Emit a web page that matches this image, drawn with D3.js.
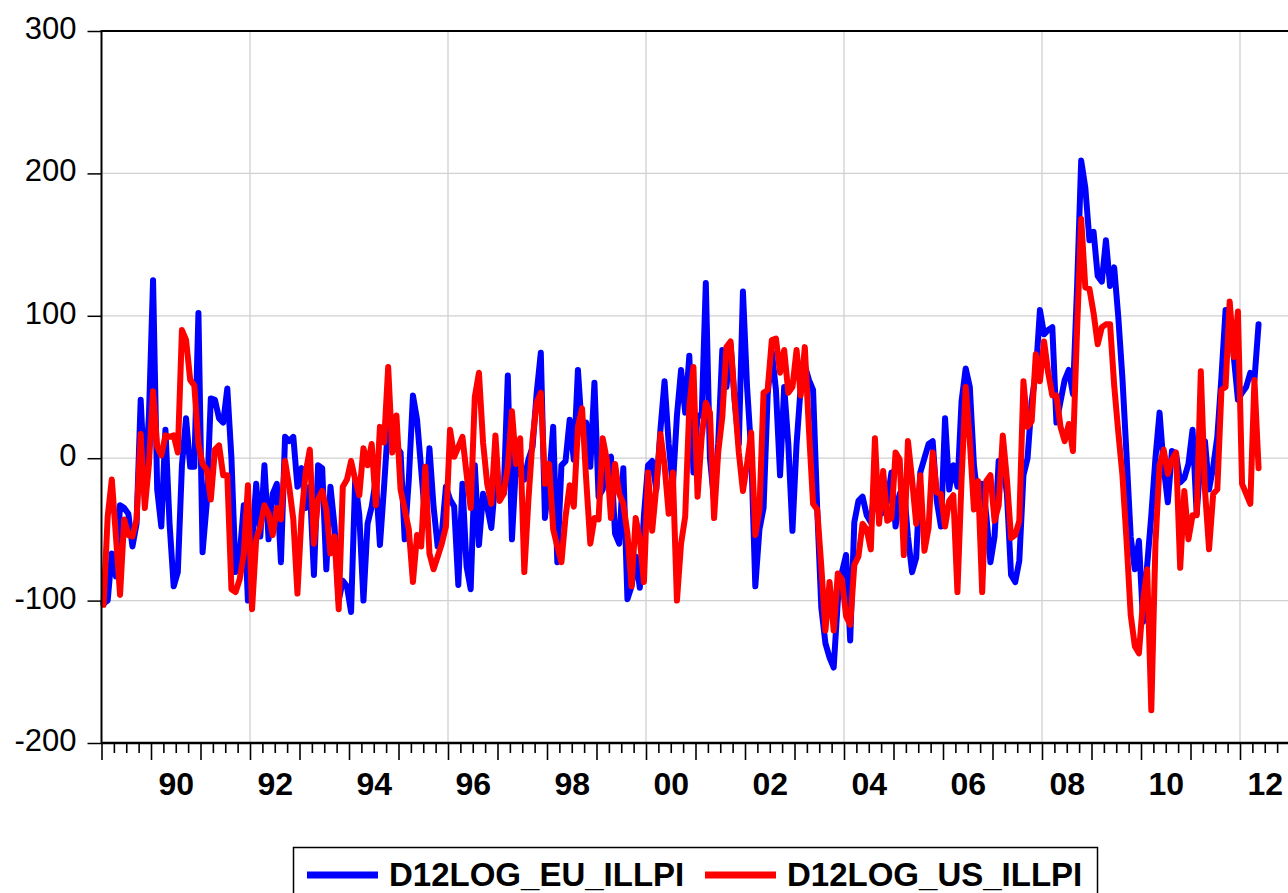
<!DOCTYPE html>
<html>
<head>
    <title></title>
    <meta charset="utf-8" />
    <style>
        body { margin: 0; background: #fff; }
        svg { display: block; font-family: "Liberation Sans", Arial, sans-serif; }
    </style>
    <script src="https://d3js.org/d3.v7.min.js"></script>
</head>
<body>
<svg id="main-graph"></svg>
<script>

// monthly observations, 1989M01 .. 2012M05
let startYear = 1989;
let seriesNames = ["D12LOG_EU_ILLPI", "D12LOG_US_ILLPI"];
let seriesColors = ["#0000ff", "#ff0000"];

let euValues = [
    -102, -100, -67, -83, -33, -35, -39, -62, -46, 41, -20, 30,
    125, -22, -48, 20, -46, -90, -80, -5, 28, -6, -6, 102,
    -66, -32, 42, 41, 28, 25, 49, 0, -80, -68, -33, -100,
    -60, -18, -55, -5, -57, -25, -18, -73, 15, 12, 15, -20,
    -7, -35, -20, -82, -5, -7, -78, -20, -48, -100, -86, -90,
    -108, -15, -40, -100, -46, -34, -15, -61, -20, 25, 10, 8,
    4, -57, -15, 44, 27, -8, -43, 7, -34, -62, -53, -20,
    -29, -34, -89, -18, -76, -92, -5, -61, -25, -34, -49, -15,
    -27, -25, 58, -57, -4, -11, -15, -1, 8, 46, 74, -42,
    -15, 22, -73, -5, -2, 27, -1, 62, 18, 25, -6, 53,
    -27, -22, -1, 1, -53, -60, -7, -99, -90, -69, -91, -40,
    -5, -2, -22, 20, 54, 10, -20, 30, 62, 32, 72, -10,
    30, 30, 123, 0, -30, 10, 76, 50, 80, 40, 10, 117,
    50, 5, -90, -50, -35, 45, 75, 48, -12, 50, 10, -51,
    10, 50, 65, 55, 48, -35, -105, -130, -140, -147, -100, -80,
    -68, -128, -45, -30, -27, -40, -45, -20, -40, -38, -30, -10,
    -48, -25, -20, -55, -80, -70, -10, 0, 10, 12, -30, -48,
    28, -22, -5, -20, 40, 63, 50, -5, -30, -18, -40, -73,
    -55, -2, -5, -25, -82, -87, -72, -12, 0, 40, 60, 104,
    87, 90, 92, 25, 40, 55, 62, 45, 120, 209, 190, 153,
    159, 128, 124, 153, 121, 134, 99, 56, 2, -55, -78, -58,
    -115, -75, -40, 0, 32, -6, -31, 5, 3, -17, -14, -4,
    20, -39, 1, 12, -22, -6, 15, 57, 104, 104, 71, 41,
    46, 50, 60, 55, 94
];

let usValues = [
    -103, -41, -15, -55, -96, -43, -54, -55, -43, 17, -35, -4,
    47, 8, 2, 16, 15, 16, 4, 90, 83, 55, 51, 10,
    -4, -8, -29, 6, 9, -12, -12, -92, -94, -85, -67, -19,
    -106, -57, -48, -33, -39, -54, -35, -43, -2, -20, -43, -95,
    -40, -10, 6, -60, -29, -23, -36, -67, -55, -106, -20, -15,
    -2, -15, -26, 7, -5, 10, -33, 22, 11, 64, 4, 30,
    -22, -36, -50, -87, -54, -62, -6, -67, -78, -69, -60, -48,
    20, 1, 8, 15, -11, -35, 43, 60, 11, -18, -32, 16,
    -30, -25, -6, 33, -4, 14, -80, -29, 13, 39, 46, -18,
    -4, -50, -62, -73, -41, -19, -34, 22, 35, -15, -60, -42,
    -43, 14, -1, -42, -4, -25, -32, -53, -90, -42, -57, -87,
    -10, -51, -20, 17, -5, -39, -10, -100, -60, -41, 36, 64,
    -27, 15, 39, 32, -42, 4, 29, 78, 82, 41, 4, -23,
    -4, 18, -54, -36, 46, 48, 83, 84, 60, 76, 46, 50,
    76, 44, 78, 20, -32, -36, -76, -121, -87, -121, -81, -85,
    -111, -117, -75, -69, -46, -50, -64, 14, -46, -9, -44, -42,
    4, -1, -68, 12, -15, -46, -12, -65, -49, 4, -24, -25,
    -48, -30, -26, -94, -15, 50, 12, -36, -16, -94, -16, -12,
    -44, -33, 16, -15, -56, -54, -44, 54, 22, 26, 73, 54,
    82, 60, 44, 44, 22, 12, 24, 5, 90, 168, 120, 119,
    102, 80, 92, 94, 94, 51, 18, -12, -58, -110, -132, -137,
    -100, -78, -177, -60, -5, 6, -11, -1, 4, -77, -23, -57,
    -40, -40, 61, -22, -64, -25, -22, 48, 50, 110, 71, 103,
    -18, -25, -32, 55, -7
];

let yTicks = [-200, -100, 0, 100, 200, 300];
let yGrid = [-100, 0, 100, 200];
let xGridYears = [1992, 1996, 2000, 2004, 2008, 2012];
let xLabelYears = [1990, 1992, 1994, 1996, 1998, 2000, 2002, 2004, 2006, 2008, 2010, 2012];

/* layout */

let realW = 1288;
let realH = 893;
let plotL = 101.5, plotR = 1289.5, plotT = 31, plotB = 743;

let svg = d3.select("#main-graph")
    .attr("width", realW)
    .attr("height", realH);

let x = d3.scaleLinear().domain([1989, 2013]).range([plotL, plotR]);
let y = d3.scaleLinear().domain([-200, 300]).range([plotB, plotT]);

// gridlines
let grid = svg.append("g").attr("stroke", "#d0d0d0").attr("stroke-width", 1.3);
grid.selectAll("line.h")
    .data(yGrid)
    .enter().append("line")
    .attr("class", "h")
    .attr("x1", plotL).attr("x2", plotR)
    .attr("y1", d => y(d)).attr("y2", d => y(d));
grid.selectAll("line.v")
    .data(xGridYears)
    .enter().append("line")
    .attr("class", "v")
    .attr("x1", d => x(d)).attr("x2", d => x(d))
    .attr("y1", plotT).attr("y2", plotB);

// series
let dateOf = i => startYear + (i + 0.5) / 12;
let line = d3.line()
    .x((d, i) => x(dateOf(i)))
    .y(d => y(d));

[euValues, usValues].forEach((vals, k) => {
    svg.append("path")
        .datum(vals)
        .attr("d", line)
        .attr("fill", "none")
        .attr("stroke", seriesColors[k])
        .attr("stroke-width", 6)
        .attr("stroke-linejoin", "round")
        .attr("stroke-linecap", "round");
});

// frame
svg.append("rect")
    .attr("x", plotL).attr("y", plotT)
    .attr("width", plotR - plotL).attr("height", plotB - plotT)
    .attr("fill", "none")
    .attr("stroke", "#000")
    .attr("stroke-width", 2);

// y axis
let yAxis = svg.append("g")
    .attr("transform", "translate(" + plotL + ",0)")
    .call(d3.axisLeft(y).tickValues(yTicks).tickSize(14).tickPadding(11)
        .tickFormat(d => String(d)));
yAxis.select(".domain").remove();
yAxis.selectAll("line").attr("stroke-width", 1.5);
yAxis.selectAll("text")
    .attr("dy", "0.24em")
    .style("font-size", "31px")
    .style("font-family", "'Liberation Sans', Arial, sans-serif")
    .attr("fill", "#000");

// x axis: quarter ticks, year ticks, labels
let quarters = d3.range(1989, 2013.001, 0.25).filter(q => q % 1 !== 0);
let years = d3.range(1989, 2014);

let xMinor = svg.append("g")
    .attr("transform", "translate(0," + plotB + ")")
    .call(d3.axisBottom(x).tickValues(quarters).tickSize(10).tickFormat(""));
let xMajor = svg.append("g")
    .attr("transform", "translate(0," + plotB + ")")
    .call(d3.axisBottom(x).tickValues(years).tickSize(17).tickFormat(""));
[xMinor, xMajor].forEach(g => {
    g.select(".domain").remove();
    g.selectAll("line").attr("stroke-width", 1.6);
});

let xLabels = svg.append("g")
    .attr("transform", "translate(0," + plotB + ")")
    .call(d3.axisBottom(x)
        .tickValues(xLabelYears.map(d => d + 0.5))
        .tickSize(0)
        .tickPadding(29)
        .tickFormat(d => d3.format("02d")(Math.floor(d) % 100)));
xLabels.select(".domain").remove();
xLabels.selectAll("text")
    .style("font-size", "32px")
    .style("font-weight", "bold")
    .style("font-family", "'Liberation Sans', Arial, sans-serif")
    .attr("fill", "#000");

svg.append("line")
    .attr("x1", plotL).attr("x2", plotR)
    .attr("y1", plotB).attr("y2", plotB)
    .attr("stroke", "#000").attr("stroke-width", 2.5);

/* legend */

let legend = svg.append("g");
legend.append("rect")
    .attr("x", 293.5).attr("y", 847.5)
    .attr("width", 804).attr("height", 70)
    .attr("fill", "#fff")
    .attr("stroke", "#000")
    .attr("stroke-width", 1.5);

let legendX = [307, 705];
let items = legend.selectAll("g.item")
    .data(seriesNames)
    .enter().append("g")
    .attr("class", "item")
    .attr("transform", (d, i) => "translate(" + legendX[i] + ",875)");
items.append("line")
    .attr("x1", 0).attr("x2", 71)
    .attr("stroke", (d, i) => seriesColors[i])
    .attr("stroke-width", 7);
items.append("text")
    .attr("x", 82).attr("y", 11)
    .style("font-size", "33px")
    .style("font-weight", "bold")
    .text(d => d);

</script>
</body>
</html>
